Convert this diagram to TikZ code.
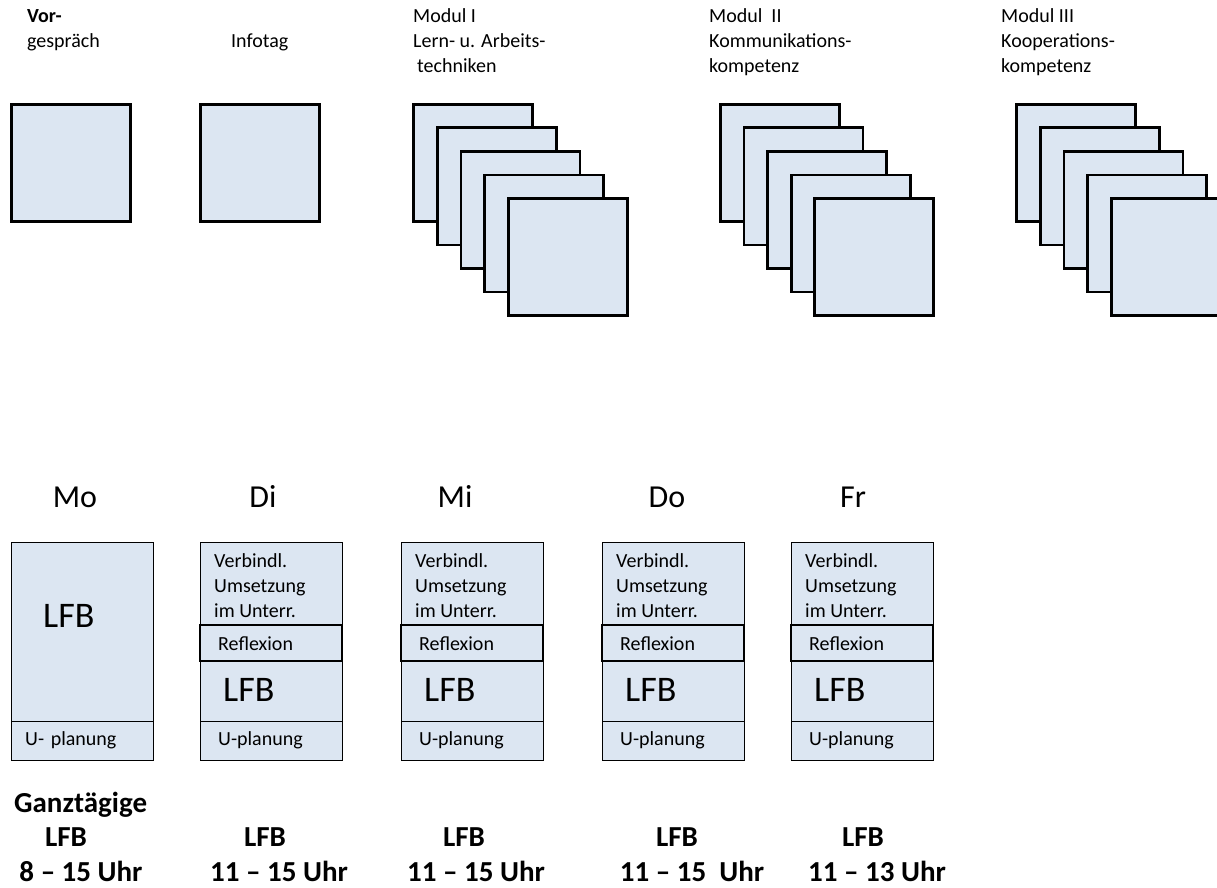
\documentclass[tikz,border=0pt]{standalone}
\usepackage{fontspec}
\setmainfont{Carlito}
\definecolor{boxfill}{HTML}{DCE6F2}
\begin{document}
\begin{tikzpicture}[x=1pt,y=-1pt,
  sq/.style={draw=black, line width=2.8pt, fill=boxfill, minimum width=119pt, minimum height=117pt, inner sep=0pt, anchor=north west},
  col/.style={draw=black, line width=1.3pt, fill=boxfill, minimum width=142pt, minimum height=218pt, inner sep=0pt, anchor=north west},
  refl/.style={draw=black, line width=2.4pt, fill=boxfill, minimum width=142pt, minimum height=36pt, inner sep=0pt, anchor=north west},
  lbl/.style={font=\fontsize{20}{24}\selectfont, anchor=base west, inner sep=0pt},
  blbl/.style={font=\fontsize{20}{24}\selectfont\bfseries, anchor=base west, inner sep=0pt},
  day/.style={font=\fontsize{32}{38}\selectfont, anchor=base, inner sep=0pt},
  big/.style={font=\fontsize{36}{43}\selectfont, anchor=base west, inner sep=0pt},
  bot/.style={font=\fontsize{29}{34}\selectfont\bfseries, anchor=base, inner sep=0pt},
  sep/.style={draw=black, line width=1.3pt}]
\useasboundingbox (0,0) rectangle (1217,888);

% ---- top row labels
\node[blbl] (t1a) at (27,23) {Vor-};
\node[lbl] (t1b) at (27,48) {gespräch};
\node[lbl] (t2) at (231,48) {Infotag};
\node[lbl] (t3a) at (413,23) {Modul I};
\node[lbl] (t3b) at (413,48) {Lern- u. Arbeits-};
\node[lbl] (t3c) at (417,73) {techniken};
\node[lbl] (t4a) at (709,23) {Modul\ \ II};
\node[lbl] (t4b) at (709,48) {Kommunikations-};
\node[lbl] (t4c) at (709,73) {kompetenz};
\node[lbl] (t5a) at (1001,23) {Modul III};
\node[lbl] (t5b) at (1001,48) {Kooperations-};
\node[lbl] (t5c) at (1001,73) {kompetenz};

% ---- top squares
\node[sq] (vg) at (10,103) {};
\node[sq] (it) at (199,103) {};
\foreach \i in {0,...,4} {
  \node[sq] (ma\i) at (412+23.75*\i,103+23.5*\i) {};
}
\foreach \i in {0,...,4} {
  \node[sq] (mb\i) at (719+23.6*\i,103+23.5*\i) {};
}
\foreach \i in {0,...,4} {
  \node[sq] (mc\i) at (1015+23.75*\i,103+23.5*\i) {};
}

% ---- day labels
\node[day] (dmo) at (75,507) {Mo};
\node[day] (ddi) at (263,507) {Di};
\node[day] (dmi) at (455,507) {Mi};
\node[day] (ddo) at (667,507) {Do};
\node[day] (dfr) at (853,507) {Fr};

% ---- Monday column
\node[col] (mo) at (11,542) {};
\draw[sep] ([yshift=40pt]mo.south west) -- ([yshift=40pt]mo.south east);
\node[big] (molfb) at (43,627) {LFB};
\node[lbl] (moup) at (25,745) {U-\,\,planung};

% ---- other columns
\foreach \x/\n in {200/di,401/mi,602/do,791/fr} {
  \node[col] (\n) at (\x,542) {};
  \draw[sep] ([yshift=40pt]\n.south west) -- ([yshift=40pt]\n.south east);
  \node[refl] (\n r) at (\x-1,624) {};
  \node[lbl] (\n v1) at (\x+14,567) {Verbindl.};
  \node[lbl] (\n v2) at (\x+14,592) {Umsetzung};
  \node[lbl] (\n v3) at (\x+14,617) {im Unterr.};
  \node[lbl] (\n rt) at (\x+18,650) {Reflexion};
  \node[big] (\n l) at (\x+23,701) {LFB};
  \node[lbl] (\n u) at (\x+18,745) {U-planung};
}

% ---- bottom labels
\node[bot, anchor=base west] (g) at (14,812) {Ganztägige};
\node[bot] (l1) at (66,846) {LFB};
\node[bot] (l2) at (265,846) {LFB};
\node[bot] (l3) at (464,846) {LFB};
\node[bot] (l4) at (677,846) {LFB};
\node[bot] (l5) at (863,846) {LFB};
\node[bot] (h1) at (81,881) {8 – 15 Uhr};
\node[bot] (h2) at (279,881) {11 – 15 Uhr};
\node[bot] (h3) at (476,881) {11 – 15 Uhr};
\node[bot] (h4) at (692,881) {11 – 15\ \ Uhr};
\node[bot] (h5) at (877,881) {11 – 13 Uhr};
\end{tikzpicture}
\end{document}
